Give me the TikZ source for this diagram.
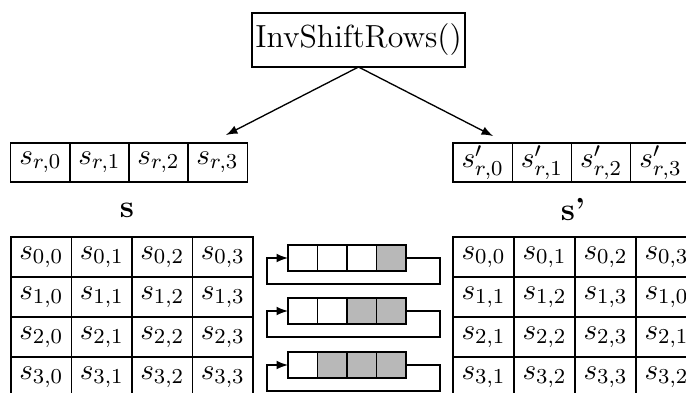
\documentclass[tikz,border=0pt]{standalone}
\usetikzlibrary{arrows}
\def\px{0.3759pt}
\begin{document}
\begin{tikzpicture}[x=0.3759pt,y=-0.3759pt,
  every node/.style={inner sep=0pt,outer sep=0pt},
  topbox/.style={draw,minimum width=213*\px,minimum height=54*\px,font=\large},
  mfont/.style={font=\fontsize{10.8}{13}\selectfont},
  rowcell/.style={draw,mfont,minimum width=59.3*\px,minimum height=39*\px},
  gcell/.style={draw,mfont,minimum width=60.5*\px,minimum height=40*\px},
  gcellr/.style={draw,mfont,minimum width=61*\px,minimum height=40*\px},
  regcell/.style={draw,minimum width=29.5*\px,minimum height=26*\px},
  shaded/.style={regcell,fill=black!28},
  lbl/.style={font=\large\bfseries},
  arr/.style={-latex,line width=0.5pt}]
\useasboundingbox (0,0) rectangle (686,392);

% top box
\node[topbox] (top) at (358.5,40) {InvShiftRows()};
\coordinate (al) at (226,135);
\coordinate (ar) at (493,136);
\draw[arr] (top.south) -- (al);
\draw[arr] (top.south) -- (ar);

% row boxes
\foreach \j in {0,1,2,3} {
  \node[rowcell] (rl-\j) at ({11+59*(\j+0.5)},162.5) {$s_{r,\j}$};
  \node[rowcell] (rr-\j) at ({453+59.3*(\j+0.5)},162.5) {$s'_{r,\j}$};
}

% labels
\node[lbl] (ls) at (127,210) {s};
\node[lbl] (lsp) at (573,210) {s'};

% left grid
\foreach \i in {0,1,2,3} {
  \foreach \j in {0,1,2,3} {
    \node[gcell] (L-\i-\j) at ({11+60.5*(\j+0.5)},{237+40*(\i+0.5)}) {$s_{\i,\j}$};
  }
}

% right grid
\node[gcellr] (R-0-0) at (483.5,257) {$s_{0,0}$};
\node[gcellr] (R-0-1) at (544.5,257) {$s_{0,1}$};
\node[gcellr] (R-0-2) at (605.5,257) {$s_{0,2}$};
\node[gcellr] (R-0-3) at (666.5,257) {$s_{0,3}$};
\node[gcellr] (R-1-0) at (483.5,297) {$s_{1,1}$};
\node[gcellr] (R-1-1) at (544.5,297) {$s_{1,2}$};
\node[gcellr] (R-1-2) at (605.5,297) {$s_{1,3}$};
\node[gcellr] (R-1-3) at (666.5,297) {$s_{1,0}$};
\node[gcellr] (R-2-0) at (483.5,337) {$s_{2,1}$};
\node[gcellr] (R-2-1) at (544.5,337) {$s_{2,2}$};
\node[gcellr] (R-2-2) at (605.5,337) {$s_{2,3}$};
\node[gcellr] (R-2-3) at (666.5,337) {$s_{2,1}$};
\node[gcellr] (R-3-0) at (483.5,377) {$s_{3,1}$};
\node[gcellr] (R-3-1) at (544.5,377) {$s_{3,2}$};
\node[gcellr] (R-3-2) at (605.5,377) {$s_{3,3}$};
\node[gcellr] (R-3-3) at (666.5,377) {$s_{3,2}$};

% shift registers
\node[regcell] (A-0) at (302.75,258) {};
\node[regcell] (A-1) at (332.25,258) {};
\node[regcell] (A-2) at (361.75,258) {};
\node[shaded]  (A-3) at (391.25,258) {};
\node[regcell] (B-0) at (302.75,311) {};
\node[regcell] (B-1) at (332.25,311) {};
\node[shaded]  (B-2) at (361.75,311) {};
\node[shaded]  (B-3) at (391.25,311) {};
\node[regcell] (C-0) at (302.75,365) {};
\node[shaded]  (C-1) at (332.25,365) {};
\node[shaded]  (C-2) at (361.75,365) {};
\node[shaded]  (C-3) at (391.25,365) {};

\coordinate (Ab) at (440,284); \coordinate (Ac) at (267,284);
\coordinate (Bb) at (440,337); \coordinate (Bc) at (267,337);
\coordinate (Cb) at (440,391); \coordinate (Cc) at (267,391);
\draw[arr] (A-3.east) -| (Ab) -- (Ac) |- (A-0.west);
\draw[arr] (B-3.east) -| (Bb) -- (Bc) |- (B-0.west);
\draw[arr] (C-3.east) -| (Cb) -- (Cc) |- (C-0.west);
\end{tikzpicture}
\end{document}
